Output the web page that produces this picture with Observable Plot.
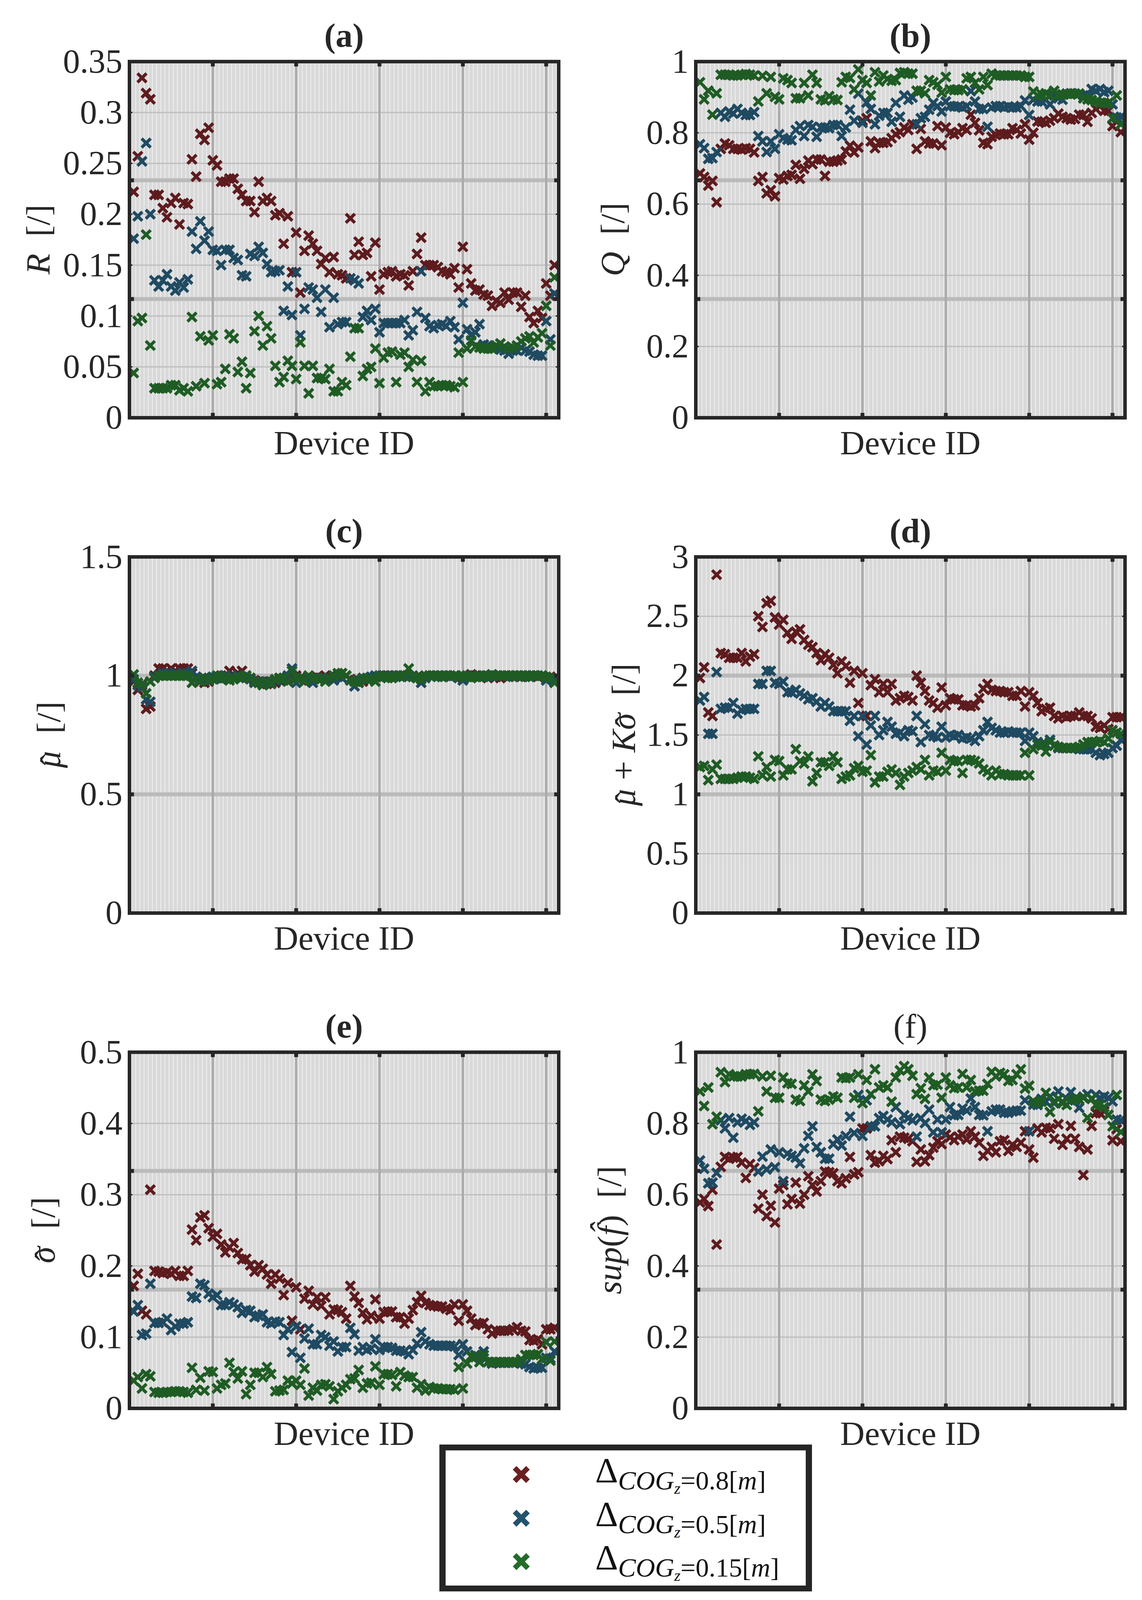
<!DOCTYPE html>
<html>
<head>
<meta charset="utf-8">
<script src="https://cdn.jsdelivr.net/npm/d3@7"></script>
<script src="https://cdn.jsdelivr.net/npm/@observablehq/plot@0.6"></script>
<style>
  html, body { margin: 0; padding: 0; background: #fff; overflow: hidden; }
  #fig { position: relative; width: 2924px; background: #fff; overflow: hidden; }
  .cell { position: absolute; width: 1462px; }
  #legend {
    position: absolute; left: 1125px; width: 954px;
    box-sizing: border-box; border: 16px solid #262626; background: #fff;
    font-family: "Liberation Serif", serif; color: #111;
  }
  .row { position: absolute; left: 0; width: 100%; }
  .row svg { position: absolute; left: 170px; }
  .lab { position: absolute; left: 383px; white-space: nowrap; }
  .sub { position: relative; }
  .sub sub { line-height: 0; }
</style>
</head>
<body>
<div id="fig"></div>
<script>
// device index on the x axis
const DEVICE_IDS = d3.range(1, 103);
const SERIES = ["0.8", "0.5", "0.15"];
const COLORS = ["#5e1b1e", "#1f4a62", "#1f5c24"];
const LEGEND_COLORS = ["#6b2020", "#23536d", "#246b2a"];

// (a) R
const R_08 = [0.222,0.257,0.334,0.319,0.313,0.219,0.219,0.206,0.197,0.211,
  0.216,0.190,0.211,0.210,0.254,0.237,0.279,0.273,0.285,0.253,
  0.248,0.232,0.232,0.235,0.235,0.225,0.219,0.213,0.213,0.202,
  0.232,0.213,0.216,0.213,0.199,0.201,0.171,0.198,0.143,0.182,
  0.123,0.164,0.179,0.171,0.164,0.151,0.157,0.143,0.158,0.141,
  0.140,0.137,0.196,0.160,0.173,0.160,0.162,0.139,0.172,0.126,
  0.141,0.143,0.144,0.139,0.141,0.140,0.130,0.144,0.161,0.177,
  0.150,0.150,0.150,0.148,0.144,0.143,0.141,0.147,0.128,0.168,
  0.146,0.132,0.125,0.126,0.121,0.120,0.110,0.115,0.113,0.123,
  0.116,0.123,0.123,0.109,0.120,0.099,0.093,0.105,0.098,0.132,
  0.120,0.150];
const R_05 = [0.176,0.198,0.252,0.270,0.200,0.135,0.129,0.135,0.141,0.129,
  0.125,0.133,0.128,0.136,0.183,0.166,0.193,0.174,0.183,0.165,
  0.164,0.150,0.165,0.165,0.157,0.155,0.140,0.139,0.161,0.159,
  0.168,0.162,0.151,0.143,0.144,0.145,0.105,0.129,0.101,0.143,
  0.081,0.107,0.128,0.126,0.118,0.104,0.126,0.089,0.118,0.092,
  0.094,0.094,0.137,0.135,0.132,0.099,0.105,0.096,0.107,0.084,
  0.093,0.093,0.093,0.093,0.093,0.096,0.081,0.086,0.104,0.144,
  0.098,0.090,0.088,0.091,0.092,0.090,0.095,0.089,0.077,0.113,
  0.087,0.081,0.084,0.092,0.072,0.071,0.069,0.069,0.067,0.066,
  0.063,0.066,0.066,0.069,0.066,0.065,0.062,0.061,0.061,0.095,
  0.077,0.122];
const R_015 = [0.044,0.095,0.098,0.180,0.071,0.029,0.029,0.029,0.029,0.032,
  0.032,0.027,0.029,0.026,0.099,0.031,0.080,0.034,0.076,0.081,
  0.033,0.035,0.048,0.082,0.078,0.045,0.055,0.029,0.044,0.085,
  0.100,0.071,0.090,0.078,0.051,0.035,0.040,0.056,0.051,0.038,
  0.074,0.051,0.024,0.051,0.039,0.039,0.038,0.048,0.026,0.026,
  0.035,0.032,0.060,0.088,0.088,0.041,0.048,0.050,0.068,0.034,
  0.059,0.064,0.065,0.035,0.062,0.064,0.050,0.057,0.035,0.056,
  0.026,0.035,0.031,0.031,0.032,0.032,0.031,0.030,0.064,0.035,
  0.068,0.076,0.070,0.069,0.068,0.068,0.068,0.071,0.073,0.070,
  0.068,0.069,0.071,0.075,0.078,0.080,0.074,0.079,0.083,0.110,
  0.071,0.138];

// (b) Q
const Q_08 = [0.686,0.676,0.652,0.665,0.605,0.755,0.770,0.765,0.755,0.755,
  0.753,0.757,0.755,0.745,0.665,0.676,0.630,0.639,0.622,0.673,
  0.669,0.679,0.682,0.710,0.671,0.699,0.722,0.712,0.725,0.725,
  0.679,0.719,0.719,0.722,0.725,0.748,0.764,0.745,0.759,0.834,
  0.841,0.776,0.757,0.772,0.772,0.774,0.785,0.796,0.802,0.815,
  0.808,0.824,0.755,0.811,0.776,0.770,0.770,0.819,0.765,0.815,
  0.800,0.796,0.802,0.813,0.808,0.851,0.828,0.807,0.772,0.768,
  0.789,0.794,0.798,0.796,0.796,0.813,0.808,0.798,0.824,0.781,
  0.800,0.832,0.831,0.828,0.834,0.841,0.854,0.845,0.841,0.837,
  0.839,0.851,0.850,0.831,0.856,0.867,0.875,0.862,0.862,0.819,
  0.831,0.802];
const Q_05 = [0.768,0.757,0.727,0.729,0.746,0.856,0.845,0.860,0.854,0.867,
  0.856,0.850,0.850,0.858,0.791,0.776,0.746,0.776,0.755,0.796,
  0.785,0.781,0.779,0.808,0.819,0.791,0.822,0.817,0.789,0.815,
  0.815,0.813,0.822,0.822,0.791,0.815,0.865,0.834,0.910,0.828,
  0.885,0.867,0.824,0.848,0.856,0.856,0.831,0.884,0.845,0.905,
  0.893,0.899,0.824,0.841,0.845,0.865,0.884,0.875,0.860,0.888,
  0.875,0.874,0.874,0.871,0.875,0.917,0.888,0.867,0.867,0.817,
  0.871,0.875,0.875,0.871,0.874,0.871,0.871,0.875,0.891,0.850,
  0.893,0.888,0.888,0.893,0.880,0.905,0.897,0.893,0.910,0.911,
  0.910,0.910,0.905,0.905,0.923,0.918,0.923,0.914,0.918,0.880,
  0.843,0.845];
const Q_015 = [0.942,0.894,0.918,0.851,0.911,0.963,0.963,0.963,0.961,0.961,
  0.963,0.965,0.963,0.961,0.888,0.960,0.911,0.957,0.901,0.894,
  0.953,0.948,0.940,0.897,0.897,0.940,0.905,0.963,0.940,0.894,
  0.891,0.903,0.894,0.892,0.942,0.957,0.954,0.922,0.978,0.948,
  0.940,0.905,0.970,0.944,0.961,0.951,0.946,0.948,0.968,0.970,
  0.966,0.966,0.918,0.918,0.911,0.948,0.942,0.935,0.913,0.957,
  0.922,0.920,0.920,0.922,0.953,0.957,0.940,0.922,0.957,0.934,
  0.966,0.961,0.961,0.961,0.961,0.961,0.961,0.961,0.957,0.957,
  0.916,0.905,0.908,0.911,0.905,0.918,0.905,0.908,0.910,0.908,
  0.910,0.910,0.897,0.894,0.892,0.888,0.884,0.884,0.884,0.841,
  0.905,0.824];

// (c) mu hat
const MU_08 = [0.975,0.94,0.96,0.86,0.87,1.0,1.03,1.03,1.02,1.03,
  1.02,1.03,1.03,1.03,1.01,0.99,0.98,0.97,0.975,0.99,
  0.99,1.0,1.0,1.02,1.0,1.01,1.02,1.0,0.99,0.98,
  0.97,0.975,0.965,0.97,0.97,0.98,0.99,0.985,0.99,1.0,
  0.99,0.985,0.98,0.99,0.995,0.99,1.0,0.99,0.99,1.0,
  1.01,1.0,0.985,0.98,0.97,0.975,0.985,0.99,0.995,1.0,
  1.0,1.0,0.995,1.0,1.0,1.0,1.0,0.995,0.995,0.99,
  0.995,1.0,1.0,1.0,0.995,1.0,1.0,1.0,0.995,0.99,
  1.0,1.005,1.0,0.995,1.0,0.99,1.0,0.995,0.99,1.0,
  0.995,1.0,1.0,0.995,1.0,1.0,1.0,0.995,1.0,0.99,
  0.995,0.98];
const MU_05 = [0.985,0.96,0.95,0.90,0.89,0.995,1.0,1.01,1.01,1.005,
  1.01,1.0,1.01,1.01,1.02,0.995,0.985,0.98,0.99,0.995,
  0.99,0.985,1.0,0.99,0.99,1.0,0.995,0.99,0.985,0.97,
  0.975,0.97,0.97,0.975,0.98,0.99,0.98,1.0,1.03,0.97,
  0.99,0.985,0.99,0.97,0.99,0.99,0.985,0.99,0.98,0.995,
  0.99,1.0,0.98,0.955,0.98,0.985,0.99,0.995,1.0,0.995,
  1.0,0.995,1.0,0.995,1.0,1.0,0.995,1.0,0.99,0.97,
  0.99,1.0,1.0,0.995,1.0,1.0,0.995,1.0,0.99,0.98,
  0.995,1.0,0.995,1.0,1.0,0.995,1.0,1.0,1.0,1.0,
  1.0,0.995,1.0,1.0,1.0,0.995,1.0,1.0,1.0,0.98,
  0.99,0.985];
const MU_015 = [1.005,0.97,0.965,0.925,0.975,0.99,1.0,1.0,1.0,1.0,
  1.0,1.0,1.0,1.0,0.97,0.985,0.975,0.99,0.98,0.985,
  1.0,0.995,0.99,0.98,0.985,0.995,0.99,1.0,0.99,0.975,
  0.97,0.96,0.975,0.965,0.985,0.99,0.99,0.975,1.02,0.99,
  0.99,0.975,1.0,0.985,0.99,0.985,0.975,0.99,1.0,1.01,
  1.01,1.0,0.98,0.975,0.97,0.99,0.985,0.985,0.975,1.0,
  0.995,0.99,0.99,1.0,0.995,1.0,1.03,0.995,0.99,0.985,
  1.0,1.0,1.0,1.0,0.995,1.0,1.0,1.0,0.995,1.0,
  1.0,0.99,0.995,1.0,0.995,1.0,1.005,1.0,1.0,1.0,
  1.0,1.0,1.0,1.0,0.995,1.0,1.0,1.0,1.0,0.995,
  0.99,0.97];

// (d) mu hat + K sigma hat
const UB_08 = [1.98,2.07,1.69,1.66,2.85,2.19,2.18,2.15,2.15,2.15,
  2.19,2.12,2.16,2.18,2.50,2.41,2.61,2.63,2.49,2.43,
  2.47,2.36,2.31,2.37,2.39,2.30,2.26,2.24,2.19,2.13,
  2.18,2.15,2.09,2.02,2.12,2.08,1.94,2.04,1.77,2.02,
  1.66,1.92,1.97,1.86,1.93,1.86,1.93,1.79,1.81,1.83,
  1.82,1.79,2.00,1.94,1.87,1.79,1.77,1.73,1.90,1.75,
  1.81,1.80,1.80,1.75,1.75,1.74,1.75,1.81,1.89,1.93,
  1.88,1.87,1.87,1.86,1.86,1.83,1.83,1.87,1.74,1.86,
  1.83,1.77,1.70,1.72,1.73,1.66,1.64,1.66,1.65,1.66,
  1.66,1.69,1.66,1.66,1.64,1.57,1.56,1.58,1.55,1.65,
  1.65,1.65];
const UB_05 = [1.79,1.82,1.51,1.51,2.03,1.72,1.73,1.73,1.77,1.68,
  1.71,1.72,1.72,1.72,1.93,1.93,2.04,2.04,1.94,1.93,
  1.95,1.86,1.86,1.88,1.85,1.83,1.80,1.81,1.78,1.74,
  1.77,1.74,1.70,1.70,1.70,1.70,1.62,1.66,1.49,1.66,
  1.42,1.58,1.66,1.50,1.54,1.61,1.57,1.51,1.52,1.49,
  1.54,1.53,1.66,1.44,1.59,1.50,1.49,1.48,1.57,1.48,
  1.50,1.49,1.50,1.47,1.48,1.47,1.45,1.49,1.54,1.61,
  1.56,1.54,1.52,1.52,1.53,1.52,1.52,1.52,1.45,1.52,
  1.49,1.44,1.42,1.42,1.46,1.41,1.39,1.39,1.39,1.39,
  1.39,1.38,1.38,1.38,1.38,1.35,1.33,1.34,1.35,1.39,
  1.41,1.46];
const UB_015 = [1.23,1.24,1.12,1.21,1.25,1.13,1.13,1.13,1.13,1.14,
  1.15,1.15,1.14,1.13,1.32,1.16,1.23,1.15,1.29,1.28,
  1.16,1.21,1.21,1.38,1.28,1.26,1.32,1.11,1.18,1.27,
  1.27,1.24,1.32,1.27,1.13,1.15,1.16,1.22,1.24,1.19,
  1.20,1.33,1.10,1.15,1.15,1.19,1.21,1.18,1.08,1.15,
  1.18,1.20,1.23,1.21,1.29,1.16,1.20,1.19,1.35,1.20,
  1.29,1.28,1.28,1.18,1.29,1.29,1.28,1.26,1.21,1.19,
  1.16,1.20,1.17,1.17,1.16,1.16,1.16,1.16,1.35,1.16,
  1.38,1.42,1.41,1.36,1.44,1.41,1.40,1.39,1.39,1.39,
  1.39,1.40,1.42,1.44,1.44,1.44,1.45,1.44,1.47,1.54,
  1.52,1.51];

// (e) sigma hat
const SIG_08 = [0.172,0.189,0.137,0.132,0.307,0.193,0.192,0.190,0.191,0.189,
  0.193,0.186,0.186,0.193,0.251,0.236,0.268,0.271,0.253,0.241,
  0.245,0.230,0.219,0.226,0.232,0.218,0.209,0.210,0.201,0.192,
  0.201,0.196,0.188,0.175,0.188,0.182,0.159,0.176,0.123,0.170,
  0.111,0.154,0.165,0.146,0.156,0.144,0.156,0.132,0.139,0.138,
  0.135,0.126,0.172,0.157,0.148,0.134,0.125,0.130,0.153,0.126,
  0.135,0.136,0.136,0.128,0.128,0.119,0.126,0.138,0.149,0.158,
  0.148,0.145,0.144,0.143,0.143,0.140,0.138,0.146,0.123,0.146,
  0.137,0.126,0.117,0.119,0.120,0.111,0.105,0.109,0.109,0.109,
  0.109,0.111,0.114,0.109,0.108,0.096,0.095,0.097,0.090,0.111,
  0.111,0.113];
const SIG_05 = [0.136,0.145,0.103,0.105,0.175,0.120,0.120,0.121,0.126,0.110,
  0.115,0.119,0.119,0.121,0.157,0.155,0.175,0.173,0.161,0.156,
  0.159,0.145,0.145,0.149,0.146,0.142,0.134,0.138,0.137,0.128,
  0.130,0.132,0.121,0.119,0.122,0.121,0.103,0.111,0.079,0.115,
  0.071,0.098,0.112,0.090,0.090,0.103,0.100,0.088,0.094,0.080,
  0.086,0.086,0.113,0.104,0.081,0.086,0.082,0.084,0.097,0.082,
  0.086,0.086,0.085,0.081,0.081,0.080,0.076,0.082,0.091,0.107,
  0.094,0.090,0.088,0.088,0.088,0.088,0.088,0.087,0.075,0.090,
  0.080,0.073,0.075,0.071,0.080,0.065,0.063,0.064,0.064,0.064,
  0.064,0.064,0.065,0.063,0.062,0.058,0.056,0.057,0.057,0.071,
  0.070,0.080];
const SIG_015 = [0.039,0.044,0.028,0.048,0.045,0.023,0.022,0.022,0.023,0.023,
  0.024,0.024,0.023,0.022,0.057,0.026,0.043,0.025,0.052,0.051,
  0.028,0.033,0.035,0.064,0.051,0.042,0.052,0.020,0.033,0.050,
  0.050,0.044,0.058,0.048,0.024,0.025,0.026,0.039,0.035,0.039,
  0.033,0.056,0.018,0.029,0.025,0.033,0.034,0.031,0.013,0.024,
  0.029,0.033,0.041,0.042,0.054,0.029,0.035,0.036,0.059,0.033,
  0.048,0.048,0.047,0.031,0.051,0.046,0.044,0.044,0.029,0.034,
  0.025,0.030,0.028,0.028,0.027,0.027,0.027,0.026,0.058,0.028,
  0.063,0.073,0.072,0.065,0.075,0.065,0.065,0.065,0.065,0.065,
  0.065,0.065,0.065,0.069,0.075,0.075,0.075,0.076,0.069,0.093,
  0.067,0.094];

// (f) sup(f hat)
const SUP_08 = [0.578,0.588,0.568,0.614,0.460,0.678,0.706,0.701,0.704,0.706,
  0.690,0.647,0.686,0.675,0.561,0.600,0.540,0.569,0.522,0.617,
  0.627,0.573,0.588,0.634,0.575,0.600,0.652,0.627,0.609,0.638,
  0.665,0.663,0.660,0.638,0.632,0.646,0.706,0.657,0.663,0.786,
  0.786,0.711,0.690,0.694,0.709,0.700,0.753,0.719,0.763,0.760,
  0.757,0.750,0.692,0.727,0.694,0.711,0.732,0.750,0.742,0.769,
  0.761,0.753,0.763,0.769,0.755,0.778,0.763,0.746,0.709,0.723,
  0.734,0.719,0.750,0.753,0.723,0.740,0.734,0.746,0.778,0.727,
  0.704,0.786,0.775,0.788,0.786,0.757,0.798,0.740,0.757,0.793,
  0.757,0.734,0.655,0.727,0.793,0.829,0.829,0.834,0.824,0.753,
  0.784,0.750];
const SUP_05 = [0.696,0.673,0.632,0.634,0.661,0.809,0.786,0.815,0.760,0.803,
  0.813,0.807,0.796,0.803,0.665,0.707,0.671,0.727,0.677,0.719,
  0.638,0.715,0.709,0.704,0.688,0.730,0.765,0.792,0.734,0.719,
  0.701,0.701,0.742,0.755,0.738,0.765,0.819,0.773,0.880,0.765,
  0.865,0.792,0.792,0.815,0.821,0.811,0.803,0.846,0.798,0.823,
  0.815,0.809,0.763,0.815,0.801,0.839,0.775,0.811,0.775,0.811,
  0.846,0.823,0.824,0.842,0.836,0.870,0.846,0.824,0.823,0.778,
  0.834,0.839,0.839,0.830,0.830,0.834,0.836,0.836,0.865,0.778,
  0.853,0.852,0.869,0.861,0.876,0.857,0.890,0.861,0.869,0.888,
  0.865,0.844,0.875,0.882,0.869,0.880,0.872,0.876,0.872,0.862,
  0.811,0.809];
const SUP_015 = [0.890,0.849,0.901,0.798,0.819,0.944,0.916,0.938,0.932,0.932,
  0.932,0.938,0.938,0.939,0.834,0.932,0.890,0.934,0.872,0.872,
  0.929,0.913,0.911,0.867,0.863,0.907,0.890,0.938,0.919,0.867,
  0.863,0.867,0.876,0.872,0.929,0.927,0.929,0.872,0.938,0.857,
  0.922,0.882,0.952,0.901,0.907,0.901,0.861,0.929,0.949,0.961,
  0.952,0.934,0.882,0.899,0.869,0.929,0.907,0.909,0.872,0.929,
  0.907,0.899,0.901,0.939,0.901,0.922,0.890,0.892,0.892,0.911,
  0.945,0.932,0.942,0.938,0.919,0.922,0.938,0.952,0.898,0.906,
  0.863,0.857,0.861,0.886,0.832,0.861,0.869,0.857,0.852,0.865,
  0.870,0.867,0.872,0.816,0.870,0.852,0.853,0.846,0.824,0.792,
  0.880,0.776];

// axis ticks
const MAJOR_X = [20, 40, 60, 80, 100];
const MINOR_X = d3.range(0.5, 103, 1);
const TICKS_A = [0, 0.05, 0.1, 0.15, 0.2, 0.25, 0.3, 0.35];
const TICKS_B = [0, 0.2, 0.4, 0.6, 0.8, 1];
const TICKS_C = [0, 0.5, 1, 1.5];
const TICKS_D = [0, 0.5, 1, 1.5, 2, 2.5, 3];
const TICKS_E = [0, 0.1, 0.2, 0.3, 0.4, 0.5];
const TICKS_F = [0, 0.2, 0.4, 0.6, 0.8, 1];

const FONT = "'Liberation Serif', 'DejaVu Serif', serif";
const INK = "#262626";
// the page is laid out for 4326px; squeeze it vertically if the window is shorter
const K = Math.min(1, (window.innerHeight || 4326) / 4326);
const CELL_H = 1339 * K, TOP = 166 * K, PH = 963 * K;
const FS = Math.round(92 * K);
const HAT = "hat"; // a circumflex set over the previous glyph

const panels = [
  {title: "(a)", bold: true, col: 0, row: 0, values: [R_08, R_05, R_015], domain: [0, 0.35], ticks: TICKS_A, lx: 97,
   ylabel: [["R", true], ["\u00a0\u00a0[/]", false]]},
  {title: "(b)", bold: true, col: 1, row: 0, values: [Q_08, Q_05, Q_015], domain: [0, 1], ticks: TICKS_B, lx: 106,
   ylabel: [["Q", true], ["\u00a0\u00a0[/]", false]]},
  {title: "(c)", bold: true, col: 0, row: 1, values: [MU_08, MU_05, MU_015], domain: [0, 1.5], ticks: TICKS_C, lx: 124,
   ylabel: [["\u03bc", true], [HAT], ["\u00a0\u00a0[/]", false]]},
  {title: "(d)", bold: true, col: 1, row: 1, values: [UB_08, UB_05, UB_015], domain: [0, 3], ticks: TICKS_D, lx: 134,
   ylabel: [["\u03bc", true], [HAT], ["\u00a0+\u00a0", false], ["K\u03c3", true], [HAT], ["\u00a0\u00a0[/]", false]]},
  {title: "(e)", bold: true, col: 0, row: 2, values: [SIG_08, SIG_05, SIG_015], domain: [0, 0.5], ticks: TICKS_E, lx: 110,
   ylabel: [["\u03c3", true], [HAT], ["\u00a0\u00a0[/]", false]]},
  {title: "(f)", bold: false, col: 1, row: 2, values: [SUP_08, SUP_05, SUP_015], domain: [0, 1], ticks: TICKS_F, lx: 98,
   ylabel: [["sup", true], ["(", false], ["f\u0302", true], [")", false], ["\u00a0\u00a0[/]", false]]}
];

const fig = d3.select("#fig").style("height", `${4326 * K}px`);
const fmt = d3.format("~g");

panels.forEach(p => {
  const rows = SERIES.flatMap((s, j) => p.values[j].map((v, i) => ({id: DEVICE_IDS[i], v, s})));
  const ymax = p.domain[1];
  const thirds = [ymax / 3, 2 * ymax / 3];
  const ml = p.col === 0 ? 331 : 319;
  const mr = 1462 - ml - 1099;

  const chart = Plot.plot({
    width: 1462,
    height: CELL_H,
    marginLeft: ml,
    marginRight: mr,
    marginTop: TOP,
    marginBottom: CELL_H - TOP - PH,
    style: {fontFamily: FONT, fontSize: `${FS}px`, color: INK, background: "transparent", overflow: "visible"},
    x: {domain: [0, 103], axis: null},
    y: {domain: p.domain, axis: null},
    color: {domain: SERIES, range: COLORS},
    marks: [
      Plot.frame({fill: "#d9d9d9"}),
      Plot.ruleX(MINOR_X, {stroke: "#f6f6f6", strokeWidth: 1.6}),
      Plot.ruleY(p.ticks, {stroke: "#bcbcbc", strokeWidth: 3}),
      Plot.ruleY(thirds, {stroke: "#bababa", strokeWidth: 10}),
      Plot.ruleX(MAJOR_X, {stroke: "#ababab", strokeWidth: 6}),
      Plot.dot(rows, {x: "id", y: "v", stroke: "s", symbol: "times", r: 10.5, strokeWidth: 8}),
      Plot.frame({stroke: INK, strokeWidth: 9}),
      Plot.axisX(MAJOR_X, {anchor: "top", tickSize: -12, strokeWidth: 10, stroke: INK, fill: "none", label: null}),
      Plot.axisX(MAJOR_X, {anchor: "bottom", tickSize: -12, strokeWidth: 10, stroke: INK, fill: "none", label: null}),
      Plot.axisY(p.ticks, {anchor: "left", tickSize: -8, strokeWidth: 3.5, stroke: INK, fill: "none", label: null}),
      Plot.axisY(p.ticks, {anchor: "right", tickSize: -8, strokeWidth: 3.5, stroke: INK, fill: "none", label: null}),
      Plot.axisY(thirds, {anchor: "left", tickSize: -12, strokeWidth: 10, stroke: INK, fill: "none", label: null}),
      Plot.axisY(thirds, {anchor: "right", tickSize: -12, strokeWidth: 10, stroke: INK, fill: "none", label: null}),
      Plot.axisY(p.ticks, {anchor: "left", tickSize: 0, tickPadding: 18, tickFormat: fmt, fill: INK, fontSize: FS, label: null}),
      Plot.text([p.title], {text: d => d, frameAnchor: "top", lineAnchor: "middle", dy: -69 * K, fontSize: FS,
        fontWeight: p.bold ? "bold" : "normal", fill: INK}),
      Plot.text(["Device ID"], {text: d => d, frameAnchor: "bottom", lineAnchor: "middle", dy: 69 * K, fontSize: FS, fill: INK})
    ]
  });

  // y label with math-style italics, rotated
  const svg = d3.select(chart);
  const t = svg.append("text")
    .attr("transform", `translate(${p.lx},${TOP + PH / 2}) rotate(-90)`)
    .attr("text-anchor", "middle")
    .attr("dominant-baseline", "central")
    .attr("font-family", FONT)
    .attr("font-size", FS)
    .attr("fill", INK);
  let hatOpen = false;
  p.ylabel.forEach(([s, it]) => {
    if (s === HAT) {
      t.append("tspan").attr("dx", "-0.42em").attr("dy", "0.12em").attr("font-style", "normal").text("\u02c6");
      hatOpen = true;
      return;
    }
    const ts = t.append("tspan").attr("font-style", it ? "italic" : "normal").text(s);
    if (hatOpen) { ts.attr("dx", "0.1em").attr("dy", "-0.12em"); hatOpen = false; }
  });

  fig.append("div")
    .attr("class", "cell")
    .style("left", `${p.col * 1462}px`)
    .style("top", `${p.row * CELL_H}px`)
    .style("height", `${CELL_H}px`)
    .append(() => chart);
});

// legend
const LEGEND_LABELS = ["0.8", "0.5", "0.15"];
const LEGEND_ROWS = [6, 124, 241];
const legend = fig.append("div").attr("id", "legend")
  .style("top", `${3906 * K}px`)
  .style("height", `${397 * K}px`)
  .style("border-width", `${16 * K}px 16px`);
LEGEND_LABELS.forEach((lab, i) => {
  const row = legend.append("div").attr("class", "row")
    .style("top", `${LEGEND_ROWS[i] * K}px`)
    .style("height", `${118 * K}px`);
  const m = 50 * K;
  const s = row.append("svg").attr("width", m).attr("height", m).style("top", `${34 * K}px`);
  s.append("path")
    .attr("d", `M${7 * K},${7 * K}L${43 * K},${43 * K}M${7 * K},${43 * K}L${43 * K},${7 * K}`)
    .attr("stroke", LEGEND_COLORS[i])
    .attr("stroke-width", 14 * K);
  row.append("span").attr("class", "lab")
    .style("top", `${-6 * K}px`)
    .style("line-height", `${110 * K}px`)
    .html(`<span style="font-size:${96 * K}px">\u0394</span><span class="sub" style="font-size:${72 * K}px;top:${19 * K}px"><i>COG</i><sub style="font-size:${44 * K}px;vertical-align:${-12 * K}px"><i>z</i></sub>=${lab}[<i>m</i>]</span>`);
});
</script>
</body>
</html>
